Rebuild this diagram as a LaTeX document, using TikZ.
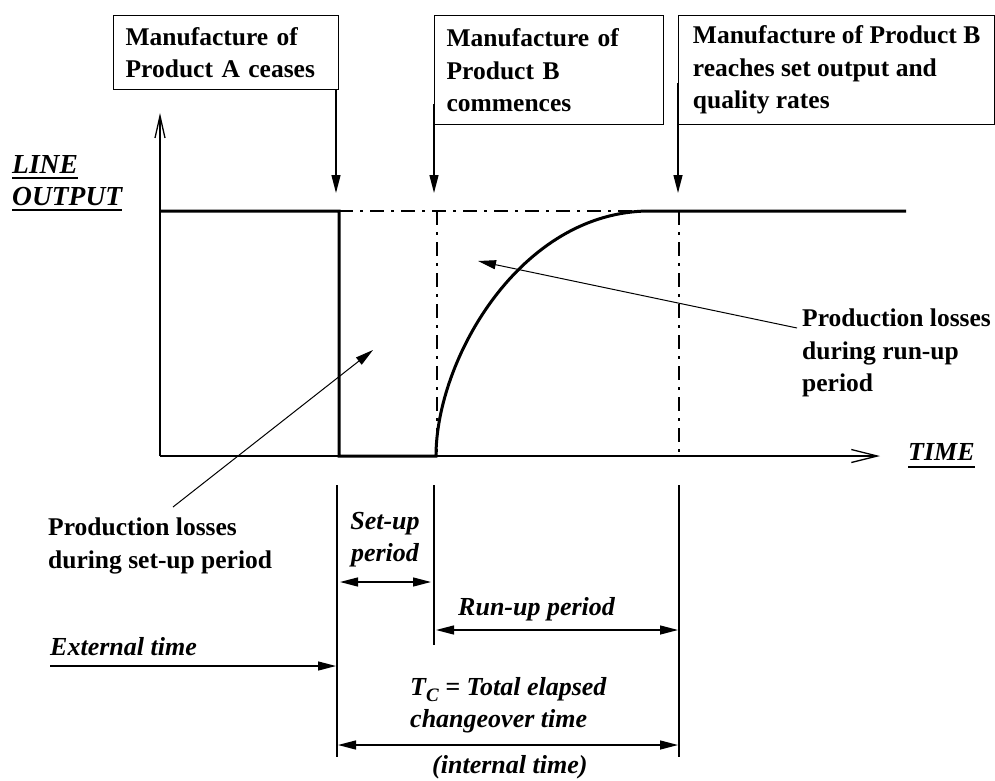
\documentclass[tikz,border=0pt]{standalone}
\usepackage{fontspec}
\setmainfont{Liberation Serif}
\usetikzlibrary{arrows.meta,calc}
\begin{document}
\begin{tikzpicture}[x=1pt,y=-1pt,
  thinline/.style={line width=1.3pt},
  thickline/.style={line width=3pt},
  dashdot/.style={line width=1.3pt, dash pattern=on 14pt off 7pt on 3pt off 7pt},
  tipone/.style={-{Triangle[length=18pt,width=9pt]}},
  tiptwo/.style={{Triangle[length=18pt,width=9pt]}-{Triangle[length=18pt,width=9pt]}},
  eventbox/.style={draw, line width=1.3pt, anchor=north west, inner xsep=12pt, inner ysep=0pt, align=left, font=\fontsize{25.5}{32.5}\selectfont\bfseries},
  boldtxt/.style={inner sep=0pt, align=left, font=\fontsize{25.5}{32.5}\selectfont\bfseries},
  itxt/.style={inner sep=0pt, font=\fontsize{26}{32.5}\selectfont\bfseries\itshape},
  axlabel/.style={inner sep=0pt, font=\fontsize{27.5}{32}\selectfont\bfseries\itshape},
]
\useasboundingbox (0,0) rectangle (995,781);

% event boxes
\node[eventbox, text width=201pt, minimum height=74pt] (boxA) at (113,15) {Manufacture of\\Product A ceases};
\node[eventbox, text width=205pt, minimum height=109pt] (boxB) at (434,15) {Manufacture of\\Product B\\commences};
\node[eventbox, minimum width=316pt, minimum height=109pt] (boxC) at (678,15) {Manufacture of Product B\\reaches set output and\\quality rates};

% event arrows
\coordinate (tA) at (336,193);
\coordinate (tB) at (434,193);
\coordinate (tC) at (678,193);
\draw[thinline, tipone] (boxA.south east -| tA) -- (tA);
\draw[thinline, tipone] ($(boxB.south west)+(0,-21)$) -- (tB);
\draw[thinline, tipone] ($(boxC.south west)+(0,-42)$) -- (tC);

% axes
\coordinate (O) at (160,456);
\coordinate (ytop) at (160,113);
\coordinate (xend) at (880,456);
\draw[thinline, -{Straight Barb[length=22pt,width=10pt]}] (O) -- (ytop);
\draw[thinline, -{Straight Barb[length=26pt,width=13pt]}] (O) -- (xend);

% output curve
\coordinate (a1) at (160,211);
\coordinate (a2) at (339,211);
\coordinate (a3) at (339,456);
\coordinate (a4) at (436,456);
\coordinate (a5) at (650,211);
\coordinate (a6) at (906,211);
\draw[dashdot] (a2) -- (a5);
\draw[dashdot] (437,211) -- (437,456);
\draw[dashdot] (679,211) -- (679,456);
\draw[thickline] (a1) -- (a2) -- (a3) -- (a4) .. controls (436,360) and (520,211) .. (a5) -- (a6);

% lower verticals
\coordinate (v1t) at (337,485); \coordinate (v1b) at (337,757);
\coordinate (v2t) at (434,485); \coordinate (v2b) at (434,645);
\coordinate (v3t) at (679,485); \coordinate (v3b) at (679,757);
\draw[thinline] (v1t) -- (v1b);
\draw[thinline] (v2t) -- (v2b);
\draw[thinline] (v3t) -- (v3b);

% dimension arrows
\coordinate (s1) at (340,582); \coordinate (s2) at (431,582);
\coordinate (r1) at (436,630); \coordinate (r2) at (678,630);
\coordinate (e1) at (50,666);  \coordinate (e2) at (336,666);
\coordinate (c1) at (338,745); \coordinate (c2) at (678,745);
\draw[thinline, tiptwo] (s1) -- (s2);
\draw[thinline, tiptwo] (r1) -- (r2);
\draw[thinline, tipone] (e1) -- (e2);
\draw[thinline, tiptwo] (c1) -- (c2);

% labels
\node[boldtxt, anchor=north west] (rlab) at (802,309) {Production losses\\during run-up\\period};
\node[boldtxt, anchor=north west] (slab) at (48,518) {Production losses\\during set-up period};
\node[itxt, anchor=north, align=center] (supl) at (385,512) {Set-up\\period};
\node[itxt, anchor=base west] (rupl) at (458,615) {Run-up period};
\node[itxt, anchor=base west] (extl) at (50,655) {External time};
\node[itxt, anchor=north west, align=left] (tcl) at (410,677) {T\raisebox{-6pt}{\fontsize{19}{19}\selectfont C} = Total elapsed\\changeover time};
\node[itxt, anchor=base west] (intl) at (432,773) {(internal time)};

% loss arrows
\coordinate (sl0) at (173,507); \coordinate (sl1) at (373,350);
\coordinate (rl0) at (797,328); \coordinate (rl1) at (478,261);
\draw[line width=1pt, tipone] (sl0) -- (sl1);
\draw[line width=1pt, tipone] (rl0) -- (rl1);

% axis labels
\node[axlabel, anchor=base west] (lineL) at (12,173) {LINE};
\node[axlabel, anchor=base west] (outL) at (12,205) {OUTPUT};
\node[inner sep=0pt, font=\fontsize{26}{30}\selectfont\bfseries\itshape, anchor=base west] (timeL) at (908,460) {TIME};
\draw[line width=2.5pt] ([yshift=-5pt]lineL.base west) -- ([yshift=-5pt]lineL.base east);
\draw[line width=2.5pt] ([yshift=-5pt]outL.base west) -- ([yshift=-5pt]outL.base east);
\draw[line width=2.5pt] ([yshift=-7pt]timeL.base west) -- ([yshift=-7pt]timeL.base east);
\end{tikzpicture}
\end{document}
